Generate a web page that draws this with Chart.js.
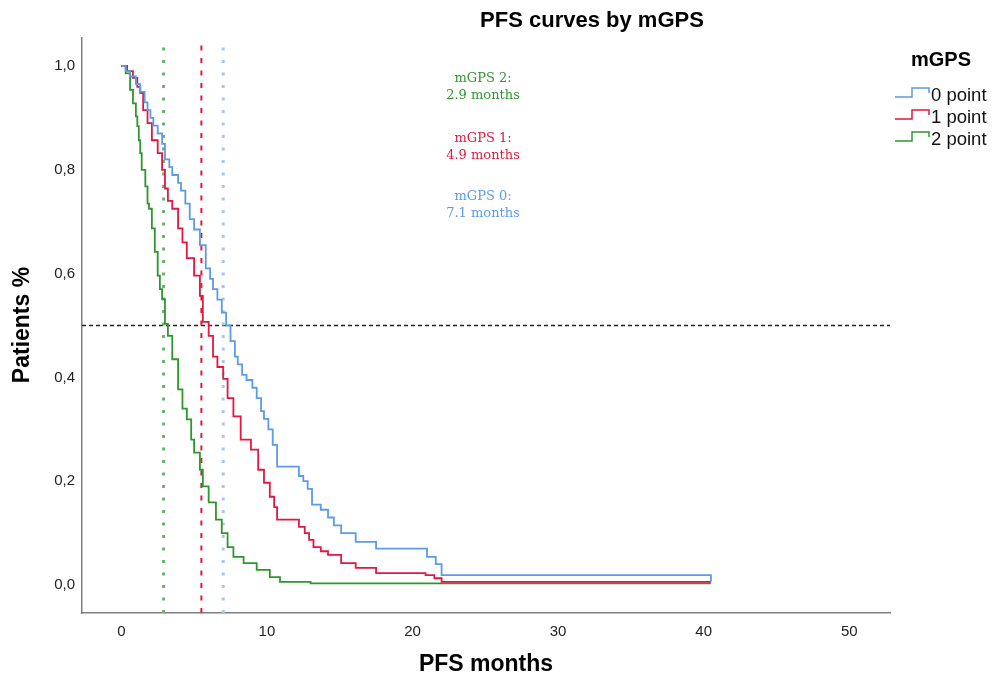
<!DOCTYPE html>
<html>
<head>
<meta charset="utf-8">
<script src="https://cdn.jsdelivr.net/npm/chart.js@4.4.0/dist/chart.umd.min.js"></script>
<style>
html, body { margin: 0; padding: 0; background: #fff; }
#wrap { width: 993px; height: 681px; }
</style>
</head>
<body>
<div id="wrap"><canvas id="km"></canvas></div>
<script>
// groups and colours
const groups = ["0 point", "1 point", "2 point"];
const colors = ["#5b9be8", "#e3173f", "#2f962f"];

// Kaplan-Meier steps (months, survival)
const months0 = [0, 0.3, 0.6, 1.0, 1.3, 1.6, 1.8, 2.0, 2.2, 2.5, 2.8, 3.0, 3.3, 3.5, 3.9, 4.1, 4.4, 4.7, 5.0, 5.4, 5.8, 6.1, 6.3, 6.6, 6.9, 7.2, 7.5, 7.8, 8.0, 8.3, 8.6, 9.0, 9.3, 9.6, 9.8, 10.1, 10.4, 10.7, 12.2, 12.5, 12.8, 13.1, 13.7, 14.2, 14.6, 15.1, 16.1, 17.5, 21.0, 21.6, 22.0, 40.5];
const surv0 = [1.0, 0.99, 0.98, 0.965, 0.95, 0.93, 0.915, 0.90, 0.885, 0.87, 0.85, 0.82, 0.805, 0.79, 0.775, 0.76, 0.735, 0.705, 0.685, 0.655, 0.61, 0.59, 0.57, 0.55, 0.525, 0.50, 0.47, 0.44, 0.425, 0.405, 0.395, 0.38, 0.36, 0.335, 0.32, 0.30, 0.27, 0.228, 0.21, 0.20, 0.185, 0.155, 0.145, 0.13, 0.115, 0.10, 0.083, 0.07, 0.054, 0.04, 0.019, 0.006];

const months1 = [0, 0.4, 0.8, 1.1, 1.3, 1.5, 1.8, 2.1, 2.5, 2.8, 3.0, 3.2, 3.5, 3.9, 4.2, 4.5, 5.0, 5.4, 5.6, 6.0, 6.3, 6.6, 7.0, 7.3, 7.7, 8.2, 8.9, 9.4, 9.8, 10.2, 10.5, 10.7, 12.2, 12.6, 12.9, 13.2, 13.7, 14.2, 15.1, 16.1, 17.5, 20.9, 21.5, 22.0, 40.5];
const surv1 = [1.0, 0.99, 0.977, 0.96, 0.948, 0.915, 0.89, 0.857, 0.832, 0.80, 0.764, 0.74, 0.725, 0.687, 0.66, 0.63, 0.596, 0.557, 0.507, 0.48, 0.44, 0.42, 0.397, 0.36, 0.325, 0.28, 0.261, 0.222, 0.197, 0.17, 0.15, 0.126, 0.112, 0.10, 0.087, 0.073, 0.065, 0.058, 0.042, 0.033, 0.023, 0.019, 0.013, 0.006, 0.006];

const months2 = [0, 0.3, 0.6, 0.8, 1.0, 1.1, 1.2, 1.3, 1.4, 1.65, 1.8, 1.9, 2.1, 2.3, 2.5, 2.65, 2.8, 3.0, 3.2, 3.5, 3.9, 4.2, 4.5, 4.8, 5.0, 5.4, 5.6, 6.0, 6.5, 6.9, 7.3, 7.7, 8.4, 9.3, 10.2, 10.9, 13.0, 40.5];
const surv2 = [1.0, 0.986, 0.954, 0.928, 0.903, 0.884, 0.857, 0.832, 0.80, 0.768, 0.735, 0.725, 0.687, 0.642, 0.596, 0.57, 0.551, 0.503, 0.48, 0.435, 0.377, 0.34, 0.319, 0.28, 0.255, 0.222, 0.19, 0.159, 0.126, 0.10, 0.073, 0.054, 0.042, 0.029, 0.015, 0.006, 0.003, 0.003];

// reference lines
const medianMonths = [7.0, 5.5, 2.9];
const halfLevel = 0.5;

// axes
const xTicks = [0, 10, 20, 30, 40, 50];
const yTicks = [0, 0.2, 0.4, 0.6, 0.8, 1.0];
const xMin = -2.7, xMax = 52.8;
const yMin = -0.054, yMax = 1.054;

// median notes, top to bottom
const notes = [
    ["mGPS 2:", "2.9 months", 2],
    ["mGPS 1:", "4.9 months", 1],
    ["mGPS 0:", "7.1 months", 0]
];

const toPoints = (xs, ys) => xs.map((x, i) => ({x: x, y: ys[i]}));

const curves = [
    toPoints(months0, surv0),
    toPoints(months1, surv1),
    toPoints(months2, surv2)
];

const datasets = curves.map((pts, i) => ({
    label: groups[i],
    data: pts,
    borderColor: colors[i],
    backgroundColor: colors[i],
    borderWidth: 1.8,
    pointRadius: 0,
    stepped: "before",
    fill: false
}));

// dashed / dotted guide lines
const guideStyles = [
    {color: "#a9c7ee", width: 3, dash: [3, 9.5]},
    {color: "#e3173f", width: 2, dash: [5, 7.5]},
    {color: "#6cb36c", width: 3, dash: [3, 9.5]}
];

medianMonths.forEach((m, i) => {
    datasets.push({
        label: "median " + groups[i],
        data: [{x: m, y: yMin}, {x: m, y: yMax}],
        borderColor: guideStyles[i].color,
        borderWidth: guideStyles[i].width,
        borderDash: guideStyles[i].dash,
        pointRadius: 0,
        fill: false
    });
});

datasets.push({
    label: "half",
    data: [{x: xMin, y: halfLevel}, {x: xMax, y: halfLevel}],
    borderColor: "#222",
    borderWidth: 1.3,
    borderDash: [4, 3],
    pointRadius: 0,
    fill: false
});

const textPlugin = {
    id: "texts",
    afterDraw(chart){

        const ctx = chart.ctx;
        ctx.save();
        ctx.fillStyle = "#000";
        ctx.textAlign = "center";
        ctx.textBaseline = "middle";

        // title
        ctx.font = "bold 22px 'Liberation Sans', Arial, sans-serif";
        ctx.fillText("PFS curves by mGPS", 592, 21);

        // axis titles
        ctx.font = "bold 23px 'Liberation Sans', Arial, sans-serif";
        ctx.fillText("PFS months", 486, 665);
        ctx.save();
        ctx.translate(23, 325);
        ctx.rotate(-Math.PI / 2);
        ctx.fillText("Patients %", 0, 0);
        ctx.restore();

        // median notes
        ctx.font = "13px 'DejaVu Serif', serif";
        const noteY = [79, 139, 197];
        notes.forEach((n, i) => {
            ctx.fillStyle = colors[n[2]];
            ctx.fillText(n[0], 483, noteY[i]);
            ctx.fillText(n[1], 483, noteY[i] + 17);
        });

        // legend
        ctx.fillStyle = "#000";
        ctx.font = "bold 20px 'Liberation Sans', Arial, sans-serif";
        ctx.fillText("mGPS", 941, 60);

        ctx.font = "18.5px 'Liberation Sans', Arial, sans-serif";
        ctx.textAlign = "left";
        groups.forEach((g, i) => {
            const y = 95 + i * 22;
            const x0 = 895;
            ctx.strokeStyle = colors[i];
            ctx.lineWidth = 1.5;
            ctx.beginPath();
            ctx.moveTo(x0, y + 2);
            ctx.lineTo(x0 + 17, y + 2);
            ctx.lineTo(x0 + 17, y - 7);
            ctx.lineTo(x0 + 34, y - 7);
            ctx.lineTo(x0 + 34, y - 2);
            ctx.stroke();
            ctx.fillStyle = "#111";
            ctx.fillText(g, x0 + 36, y + 1);
        });

        ctx.restore();

    }
};

const tickFont = {family: "'Liberation Sans', Arial, sans-serif", size: 15};

new Chart(document.getElementById("km"), {
    type: "line",
    data: {datasets},
    options: {
        responsive: true,
        maintainAspectRatio: false,
        animation: false,
        layout: {padding: {top: 38, right: 103, left: 0, bottom: 0}},
        plugins: {
            legend: {display: false},
            tooltip: {enabled: false},
            title: {display: false}
        },
        scales: {
            x: {
                type: "linear",
                min: xMin,
                max: xMax,
                afterBuildTicks: s => { s.ticks = xTicks.map(v => ({value: v})); },
                afterFit: s => { s.height = 68; },
                grid: {display: false, drawTicks: false},
                border: {display: true, color: "#808080", width: 1.5},
                ticks: {color: "#222", font: tickFont, padding: 10, maxRotation: 0}
            },
            y: {
                type: "linear",
                min: yMin,
                max: yMax,
                afterBuildTicks: s => { s.ticks = yTicks.map(v => ({value: v})); },
                afterFit: s => { s.width = 82; },
                grid: {display: false, drawTicks: false},
                border: {display: true, color: "#808080", width: 1.5},
                ticks: {
                    color: "#222",
                    font: tickFont,
                    padding: 7,
                    callback: v => v.toFixed(1).replace(".", ",")
                }
            }
        }
    },
    plugins: [textPlugin]
});
</script>
</body>
</html>
